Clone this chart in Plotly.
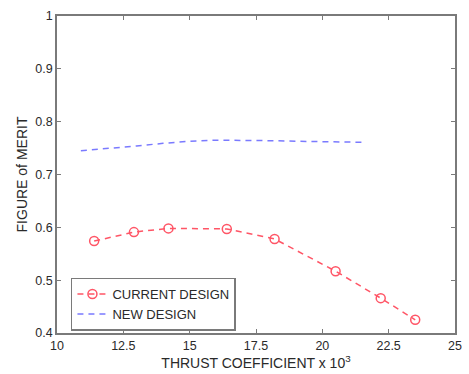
import plotly.graph_objects as go

current_x = [11.4, 12.9, 14.2, 16.4, 18.2, 20.5, 22.2, 23.5]
current_y = [0.574, 0.591, 0.598, 0.597, 0.578, 0.517, 0.466, 0.425]

new_x = [10.9, 12.0, 13.0, 14.0, 15.0, 16.0, 17.0, 18.0, 19.0, 20.0, 21.5]
new_y = [0.745, 0.749, 0.754, 0.759, 0.763, 0.765, 0.765, 0.764, 0.763, 0.762, 0.761]

x_ticks = [10, 12.5, 15, 17.5, 20, 22.5, 25]
y_ticks = [0.4, 0.5, 0.6, 0.7, 0.8, 0.9, 1.0]

font = "Liberation Sans, Arial, sans-serif"
txt = "#2a2a2a"

fig = go.Figure()
fig.add_trace(go.Scatter(
    x=current_x, y=current_y, mode="lines+markers", name="CURRENT DESIGN",
    line=dict(color="#ff5566", width=1.5, dash="6px,5px"),
    marker=dict(symbol="circle-open", size=9, color="#ff5566", line=dict(width=1.5)),
))
fig.add_trace(go.Scatter(
    x=new_x, y=new_y, mode="lines", name="NEW DESIGN",
    line=dict(color="#7a7aff", width=1.5, dash="6px,5px"),
))

axis_common = dict(
    showgrid=False, zeroline=False, showline=True, linecolor="#7a7a7a", linewidth=1.5,
    mirror="ticks", ticks="inside", ticklen=4, tickcolor="#7a7a7a",
    tickfont=dict(family=font, size=12.5, color=txt),
)
fig.update_xaxes(range=[10, 25], tickvals=x_ticks, ticktext=[("%g" % v) for v in x_ticks],
                 title=dict(text="THRUST COEFFICIENT x 10<sup>3</sup>", font=dict(family=font, size=14, color=txt), standoff=3),
                 **axis_common)
fig.update_yaxes(range=[0.4, 1.0], tickvals=y_ticks, ticktext=[("%g" % v) for v in y_ticks],
                 title=dict(text="FIGURE of MERIT", font=dict(family=font, size=14, color=txt), standoff=4),
                 **axis_common)

fig.update_layout(
    width=469, height=374,
    margin=dict(l=57, r=7, t=16, b=41),
    paper_bgcolor="white", plot_bgcolor="white",
    showlegend=True,
    legend=dict(x=0.035, y=0.175, xanchor="left", yanchor="top",
                bordercolor="#7a7a7a", borderwidth=1.5, bgcolor="white",
                font=dict(family=font, size=13, color=txt),
                tracegroupgap=0, itemwidth=30),
)

fig.write_html("out.html")
